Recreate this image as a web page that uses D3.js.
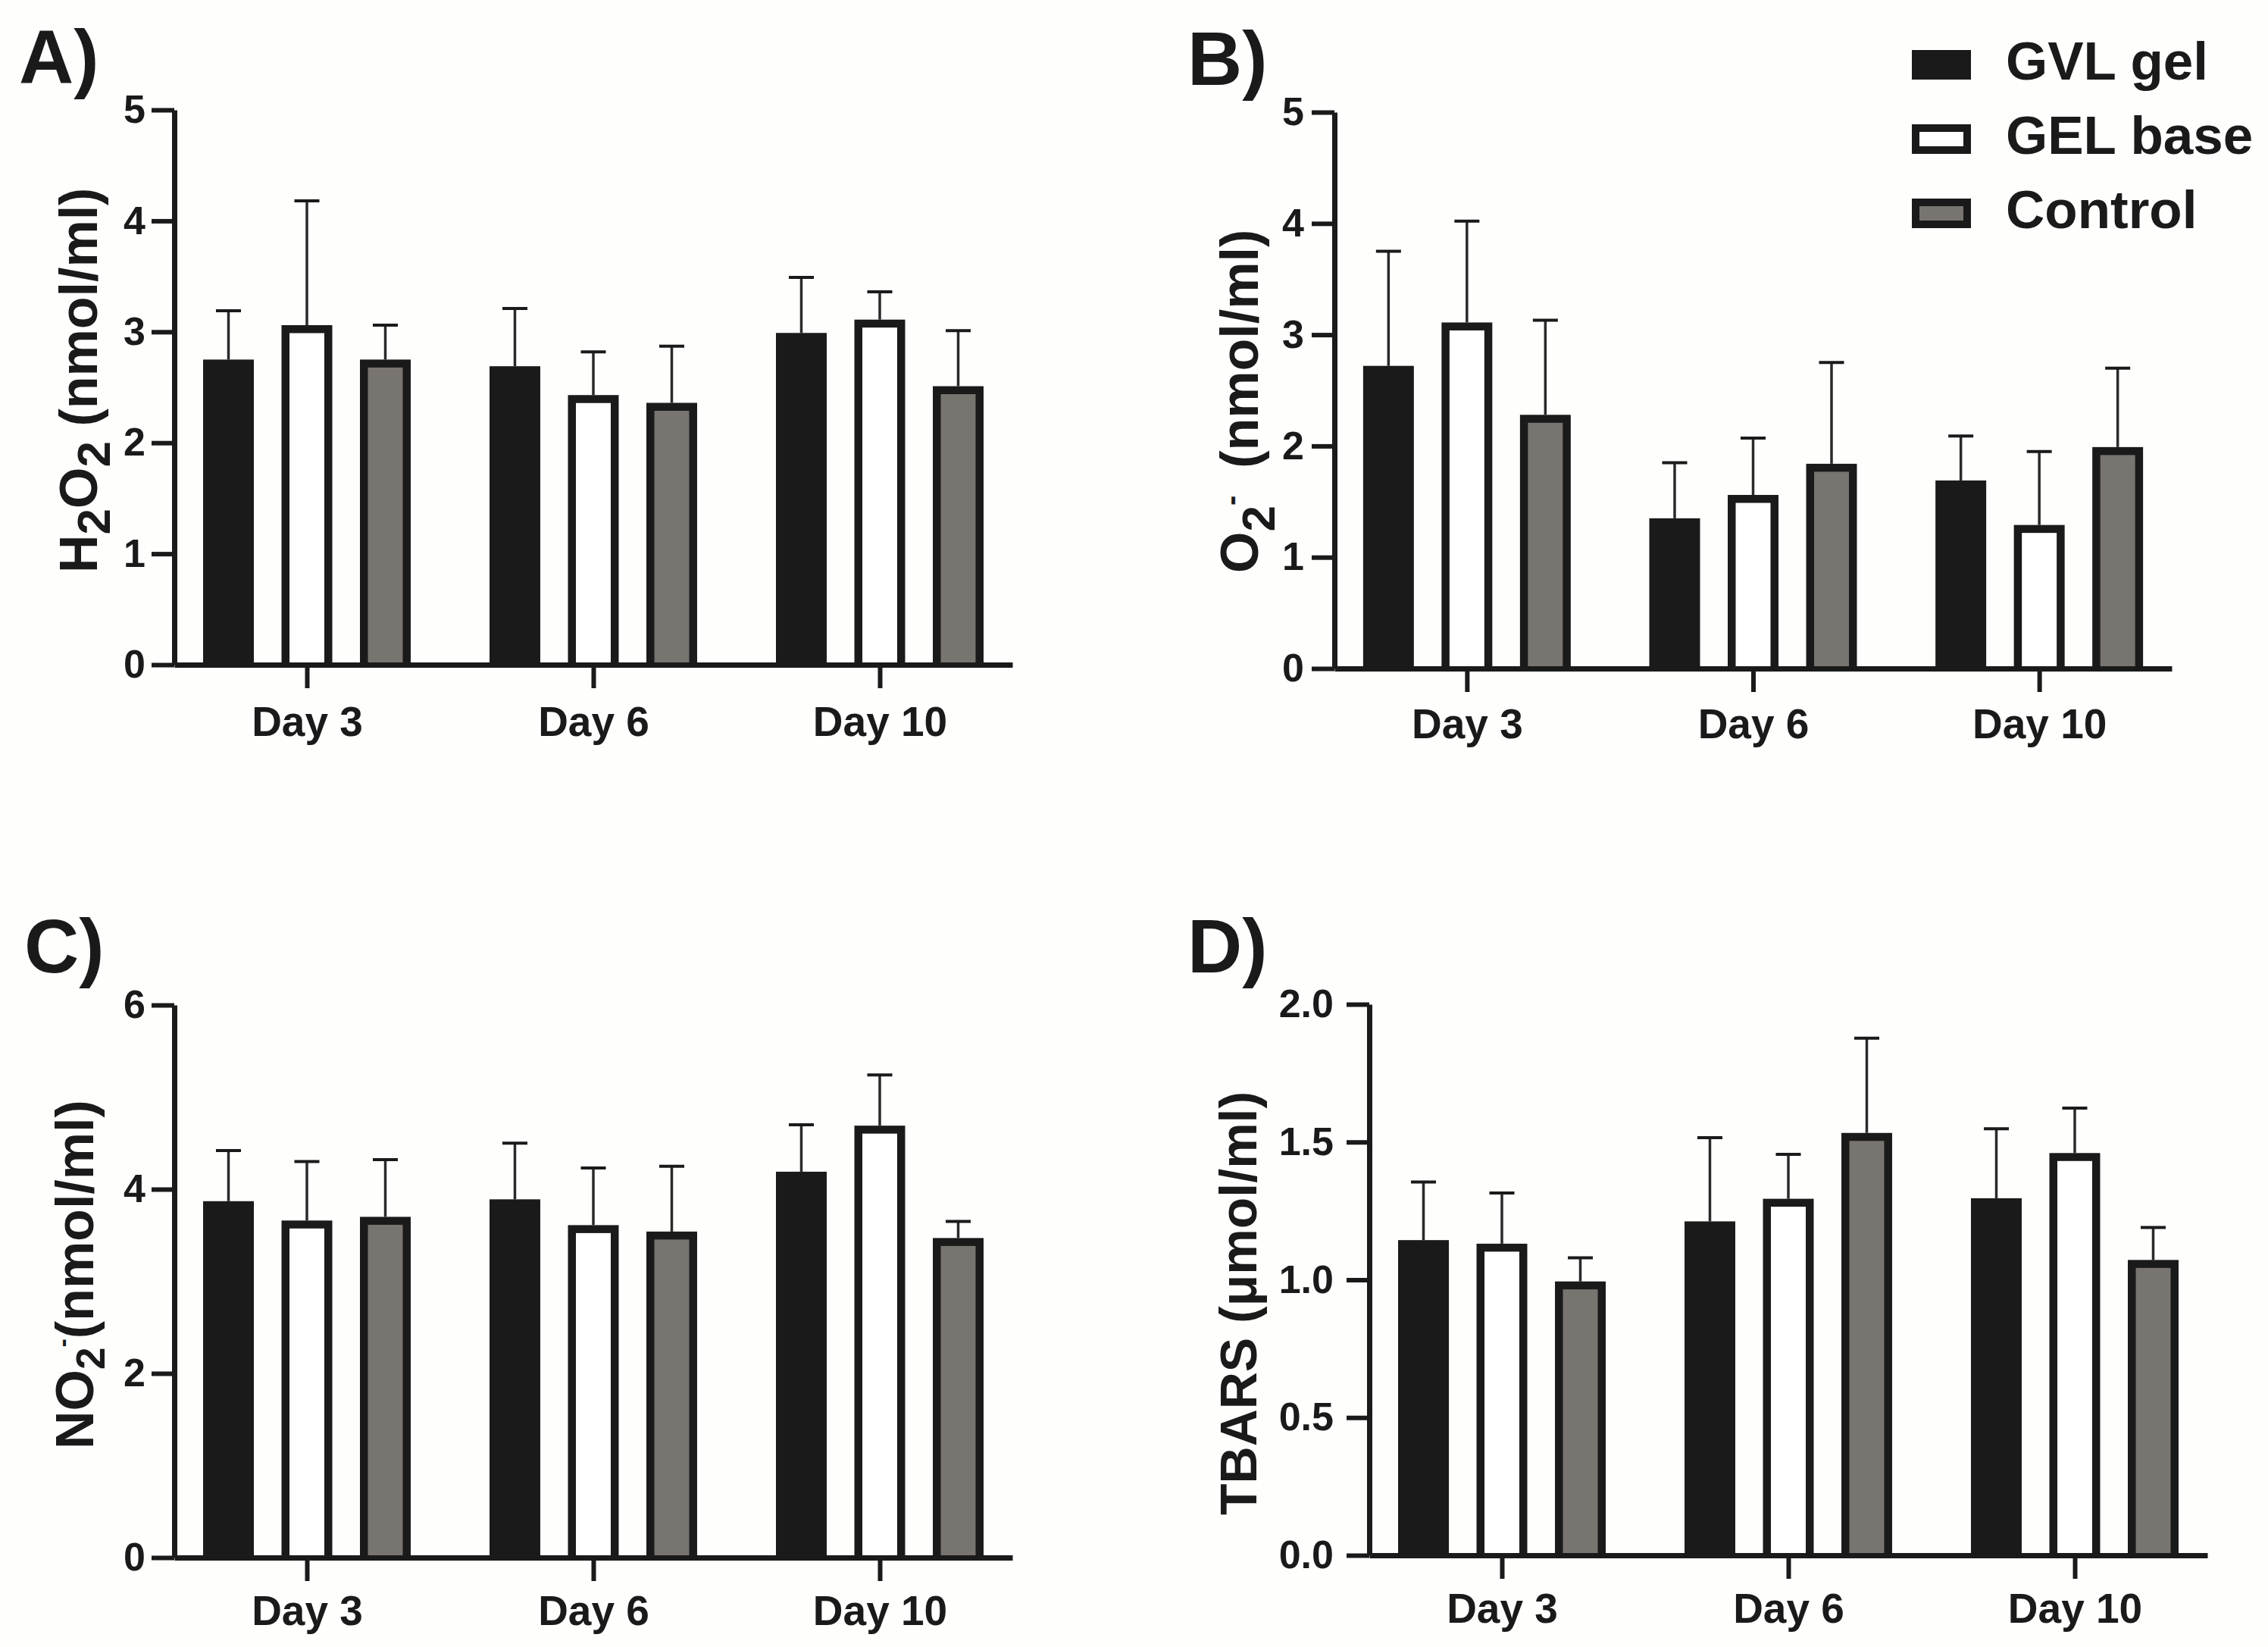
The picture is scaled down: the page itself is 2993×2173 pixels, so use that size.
<!DOCTYPE html>
<html>
<head>
<meta charset="utf-8">
<script src="https://cdn.jsdelivr.net/npm/d3@7"></script>
<style>
  body { margin: 0; background: #fefefd; }
  text { font-family: "Liberation Sans", Arial, sans-serif; font-weight: bold; fill: #1a1a1a; }
</style>
</head>
<body>
<svg id="chart"></svg>
<script>
/**
 * DATA
 * means and SD (upper whisker only), each row = one day: [GVL gel, GEL base, Control]
 */
const days = ["Day 3", "Day 6", "Day 10"];
const groups = ["GVL gel", "GEL base", "Control"];
const groupFill = ["#1a1a1a", "#ffffff", "#787470"];

const h2o2Mean = [[2.75, 3.06, 2.75], [2.69, 2.43, 2.36], [2.99, 3.11, 2.51]];
const h2o2Sd   = [[0.44, 1.12, 0.31], [0.52, 0.39, 0.51], [0.50, 0.25, 0.50]];

const o2Mean = [[2.72, 3.11, 2.28], [1.35, 1.56, 1.84], [1.69, 1.29, 1.99]];
const o2Sd   = [[1.03, 0.91, 0.85], [0.50, 0.51, 0.91], [0.40, 0.66, 0.71]];

const no2Mean = [[3.87, 3.66, 3.70], [3.89, 3.61, 3.54], [4.19, 4.69, 3.47]];
const no2Sd   = [[0.55, 0.64, 0.62], [0.61, 0.62, 0.71], [0.51, 0.55, 0.18]];

const tbarsMean = [[1.144, 1.131, 0.994], [1.212, 1.294, 1.533], [1.296, 1.460, 1.072]];
const tbarsSd   = [[0.211, 0.184, 0.086], [0.304, 0.161, 0.344], [0.252, 0.163, 0.118]];

const ticksA = [0, 1, 2, 3, 4, 5];
const ticksC = [0, 2, 4, 6];
const ticksD = [0, 0.5, 1.0, 1.5, 2.0];

/**
 * LAYOUT
 */
const width = 2993, height = 2173;
const ink = "#1a1a1a";

const svg = d3.select("#chart").attr("width", width).attr("height", height);
svg.append("rect").attr("width", width).attr("height", height).attr("fill", "#fefefd");

// y-label pieces: [text, font-size, dy, dx]; label starts (bottom end) at labStart
const panels = [
  { letter: "A)", lx: 25, ly: 110, x0: 230, x1: 1336, y0: 877, y1: 145, max: 5,
    ticks: ticksA, fmt: d3.format("d"), pad: 8, xlab: 94, mean: h2o2Mean, sd: h2o2Sd,
    labX: 128, labStart: 756,
    label: [["H", 70, 0], ["2", 62, 17], ["O", 70, -17], ["2", 62, 17], [" (nmol/ml)", 70, -17]] },
  { letter: "B)", lx: 1567, ly: 112, x0: 1761, x1: 2866, y0: 882, y1: 148, max: 5,
    ticks: ticksA, fmt: d3.format("d"), pad: 10, xlab: 92, mean: o2Mean, sd: o2Sd,
    labX: 1660, labStart: 756,
    label: [["O", 70, 0], ["2", 62, 22], ["-", 40, -44], ["(nmol/ml)", 70, 22, 36]] },
  { letter: "C)", lx: 32, ly: 1283, x0: 230, x1: 1336, y0: 2055, y1: 1326, max: 6,
    ticks: ticksC, fmt: d3.format("d"), pad: 8, xlab: 89, mean: no2Mean, sd: no2Sd,
    labX: 123, labStart: 1912,
    label: [["NO", 70, 0], ["2", 53, 15], ["-", 34, -44], ["(nmol/ml)", 70, 29]] },
  { letter: "D)", lx: 1567, ly: 1283, x0: 1807, x1: 2913, y0: 2052, y1: 1325, max: 2,
    ticks: ticksD, fmt: d3.format(".1f"), pad: 17, xlab: 89, mean: tbarsMean, sd: tbarsSd,
    labX: 1658, labStart: 1999,
    label: [["TBARS (\u03bcmol/ml)", 68, 0]] }
];

panels.forEach(drawPanel);
drawLegend();

function drawPanel(p) {
  const g = svg.append("g");

  const xScale = d3.scalePoint().domain(days).range([p.x0, p.x1]).padding(0.463);
  const xSub = d3.scaleBand().domain(groups).range([-155.25, 155.25])
    .paddingInner(0.353).paddingOuter(0.1765);
  const yScale = d3.scaleLinear().domain([0, p.max]).range([p.y0, p.y1]);

  // flat rows for the bars
  const rows = [];
  days.forEach((d, i) => groups.forEach((s, j) => {
    rows.push({ day: d, group: s, gi: j, mean: p.mean[i][j], sd: p.sd[i][j] });
  }));

  const bw = xSub.bandwidth();
  const inset = 10.5;
  const barX = d => xScale(d.day) + xSub(d.group);

  // error bars (upper only)
  const err = g.selectAll("g.err").data(rows).join("g").attr("class", "err");
  err.append("line")
    .attr("x1", d => barX(d) + bw / 2).attr("x2", d => barX(d) + bw / 2)
    .attr("y1", d => yScale(d.mean)).attr("y2", d => yScale(d.mean + d.sd))
    .attr("stroke", "#2a2a2a").attr("stroke-width", 3.5);
  err.append("line")
    .attr("x1", d => barX(d) + bw / 2 - 16.5).attr("x2", d => barX(d) + bw / 2 + 16.5)
    .attr("y1", d => yScale(d.mean + d.sd)).attr("y2", d => yScale(d.mean + d.sd))
    .attr("stroke", ink).attr("stroke-width", 4);

  // bars: outer dark box, inner fill
  g.selectAll("rect.outer").data(rows).join("rect").attr("class", "outer")
    .attr("x", barX).attr("width", bw)
    .attr("y", d => yScale(d.mean)).attr("height", d => yScale(0) - yScale(d.mean))
    .attr("fill", ink);
  g.selectAll("rect.inner").data(rows.filter(d => d.gi > 0)).join("rect").attr("class", "inner")
    .attr("x", d => barX(d) + inset).attr("width", bw - 2 * inset)
    .attr("y", d => yScale(d.mean) + inset)
    .attr("height", d => Math.max(0, yScale(0) - yScale(d.mean) - inset))
    .attr("fill", d => groupFill[d.gi]);

  // AXES
  const yAxis = d3.axisLeft(yScale).tickValues(p.ticks).tickFormat(p.fmt)
    .tickSize(30).tickSizeOuter(0).tickPadding(p.pad);
  const yg = g.append("g").attr("transform", `translate(${p.x0},0)`).call(yAxis);
  yg.select(".domain").attr("stroke", ink).attr("stroke-width", 7);
  yg.selectAll(".tick line").attr("stroke", ink).attr("stroke-width", 6);
  yg.selectAll(".tick text").attr("font-size", 52).attr("fill", ink)
    .attr("font-family", "'Liberation Sans', Arial, sans-serif").attr("font-weight", "bold");

  const xAxis = d3.axisBottom(xScale).tickSize(31).tickSizeOuter(0).tickPadding(0);
  const xg = g.append("g").attr("transform", `translate(0,${p.y0})`).call(xAxis);
  xg.select(".domain").attr("stroke", ink).attr("stroke-width", 7);
  xg.selectAll(".tick line").attr("stroke", ink).attr("stroke-width", 6);
  xg.selectAll(".tick text").attr("font-size", 55).attr("fill", ink).attr("y", p.xlab).attr("dy", 0)
    .attr("font-family", "'Liberation Sans', Arial, sans-serif").attr("font-weight", "bold");

  // y label, reading bottom to top
  const lab = g.append("text")
    .attr("transform", `translate(${p.labX},${p.labStart}) rotate(-90)`)
    .attr("text-anchor", "start");
  p.label.forEach(([t, size, dy, dx]) => {
    const ts = lab.append("tspan").attr("font-size", size).attr("dy", dy).text(t);
    if (dx) ts.attr("dx", dx);
  });

  // panel letter
  g.append("text").attr("x", p.lx).attr("y", p.ly).attr("font-size", 100).text(p.letter);
}

function drawLegend() {
  const lg = svg.append("g");
  const rowY = d3.scalePoint().domain(groups).range([105, 301]);
  const item = lg.selectAll("g").data(groups).join("g")
    .attr("transform", d => `translate(0,${rowY(d)})`);
  item.append("rect").attr("x", 2523).attr("y", -39).attr("width", 78).attr("height", 39)
    .attr("fill", ink);
  item.filter((d, i) => i > 0).append("rect")
    .attr("x", 2523 + 10).attr("y", -29).attr("width", 58).attr("height", 19)
    .attr("fill", d => groupFill[groups.indexOf(d)]);
  item.append("text").attr("x", 2647).attr("y", 0).attr("font-size", 71).text(d => d);
}
</script>
</body>
</html>
